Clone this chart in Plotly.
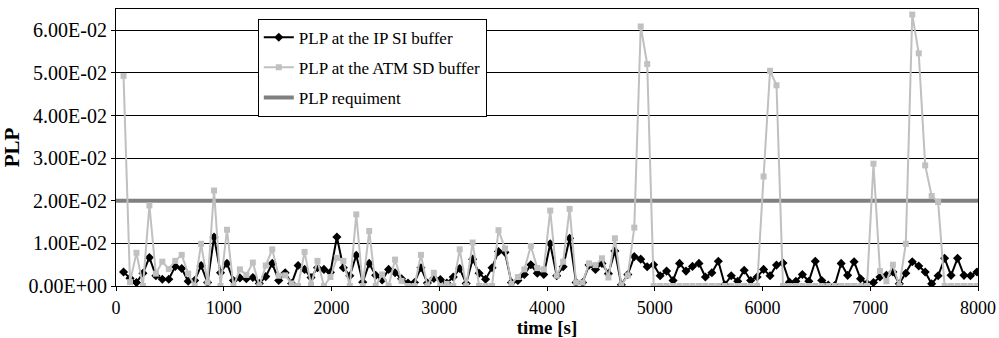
import plotly.graph_objects as go

# sampling instants [s]
time_s = [60 * k + 10 for k in range(1, 134)]

plp_ip_si = [
    0.0033, 0.0018, 0.0008, 0.0030, 0.0067, 0.0024, 0.0016, 0.0016, 0.0046, 0.0041,
    0.0011, 0.0013, 0.0048, 0.0008, 0.0115, 0.0031, 0.0053, 0.0013, 0.0019, 0.0017,
    0.0020, 0.0006, 0.0022, 0.0053, 0.0013, 0.0031, 0.0006, 0.0048, 0.0039, 0.0020,
    0.0043, 0.0039, 0.0032, 0.0115, 0.0043, 0.0024, 0.0072, 0.0009, 0.0053, 0.0025,
    0.0014, 0.0039, 0.0031, 0.0017, 0.0007, 0.0008, 0.0043, 0.0007, 0.0018, 0.0015,
    0.0007, 0.0021, 0.0041, 0.0006, 0.0063, 0.0030, 0.0016, 0.0043, 0.0081, 0.0079,
    0.0008, 0.0013, 0.0027, 0.0050, 0.0030, 0.0027, 0.0099, 0.0024, 0.0045, 0.0112,
    0.0008, 0.0008, 0.0049, 0.0039, 0.0053, 0.0029, 0.0082, 0.0003, 0.0027, 0.0069,
    0.0063, 0.0045, 0.0050, 0.0024, 0.0035, 0.0013, 0.0053, 0.0035, 0.0046, 0.0053,
    0.0021, 0.0031, 0.0058, 0.0003, 0.0024, 0.0011, 0.0037, 0.0013, 0.0021, 0.0039,
    0.0024, 0.0049, 0.0054, 0.0009, 0.0011, 0.0027, 0.0011, 0.0058, 0.0013, 0.0002,
    0.0001, 0.0053, 0.0025, 0.0057, 0.0017, 0.0006, 0.0008, 0.0021, 0.0025, 0.0033,
    0.0005, 0.0030, 0.0057, 0.0047, 0.0033, 0.0005, 0.0024, 0.0065, 0.0025, 0.0065,
    0.0025, 0.0024, 0.0033,
]

plp_atm_sd = [
    0.0493, 0.0009, 0.0078, 0.0000, 0.0189, 0.0029, 0.0057, 0.0040, 0.0059, 0.0073,
    0.0029, 0.0000, 0.0099, 0.0008, 0.0224, 0.0000, 0.0132, 0.0000, 0.0039, 0.0026,
    0.0055, 0.0000, 0.0048, 0.0086, 0.0024, 0.0025, 0.0006, 0.0000, 0.0080, 0.0003,
    0.0059, 0.0000, 0.0021, 0.0066, 0.0059, 0.0000, 0.0168, 0.0000, 0.0129, 0.0000,
    0.0027, 0.0000, 0.0062, 0.0012, 0.0000, 0.0000, 0.0073, 0.0000, 0.0031, 0.0000,
    0.0005, 0.0000, 0.0086, 0.0000, 0.0102, 0.0000, 0.0000, 0.0000, 0.0131, 0.0088,
    0.0005, 0.0021, 0.0039, 0.0094, 0.0042, 0.0039, 0.0177, 0.0024, 0.0057, 0.0181,
    0.0008, 0.0008, 0.0053, 0.0049, 0.0065, 0.0020, 0.0112, 0.0002, 0.0025, 0.0137,
    0.0609, 0.0521, 0.0000, 0.0000, 0.0000, 0.0000, 0.0000, 0.0000, 0.0000, 0.0000,
    0.0000, 0.0000, 0.0000, 0.0000, 0.0000, 0.0000, 0.0000, 0.0000, 0.0000, 0.0257,
    0.0505, 0.0471, 0.0000, 0.0000, 0.0000, 0.0000, 0.0000, 0.0000, 0.0000, 0.0000,
    0.0000, 0.0000, 0.0000, 0.0000, 0.0000, 0.0000, 0.0287, 0.0035, 0.0011, 0.0050,
    0.0000, 0.0099, 0.0637, 0.0546, 0.0283, 0.0211, 0.0197, 0.0000, 0.0000, 0.0000,
    0.0000, 0.0000, 0.0000,
]

plp_requirement = 0.02
req_x = [0, 8000]

y_tick_vals = [0.0, 0.01, 0.02, 0.03, 0.04, 0.05, 0.06]
y_tick_text = ["0.00E+00", "1.00E-02", "2.00E-02", "3.00E-02", "4.00E-02", "5.00E-02", "6.00E-02"]
x_tick_vals = [0, 1000, 2000, 3000, 4000, 5000, 6000, 7000, 8000]

FONT = "Liberation Serif"

fig = go.Figure()
fig.add_trace(go.Scatter(
    x=req_x, y=[plp_requirement, plp_requirement], mode="lines",
    name="PLP requiment", line=dict(color="#808080", width=4),
    legendrank=3, legendgroup="c",
))
fig.add_trace(go.Scatter(
    x=time_s, y=plp_ip_si, mode="lines+markers",
    name="PLP at the IP SI buffer",
    line=dict(color="#000000", width=2),
    marker=dict(symbol="diamond", size=7, color="#000000"),
    legendrank=1, legendgroup="a",
))
fig.add_trace(go.Scatter(
    x=time_s, y=plp_atm_sd, mode="lines+markers",
    name="PLP at the ATM SD buffer",
    line=dict(color="#c0c0c0", width=2),
    marker=dict(symbol="square", size=6, color="#c0c0c0"),
    legendrank=2, legendgroup="b",
))

fig.update_layout(
    width=999, height=338,
    margin=dict(l=116, r=21, t=9, b=52, autoexpand=False),
    paper_bgcolor="white", plot_bgcolor="white",
    font=dict(family=FONT, color="black", size=19),
    legend=dict(
        x=0.1645, y=0.965, xanchor="left", yanchor="top",
        bgcolor="white", bordercolor="black", borderwidth=1,
        font=dict(family=FONT, size=17, color="black"),
        tracegroupgap=5,
    ),
    xaxis=dict(
        range=[0, 8000], tickvals=x_tick_vals, automargin=False,
        showgrid=False, zeroline=False,
        showline=True, linecolor="black", linewidth=1, mirror=True,
        ticks="outside", ticklen=4, tickcolor="black",
        tickfont=dict(family=FONT, size=18), ticklabelstandoff=1,
        title=dict(text="<b>time [s]</b>", font=dict(family=FONT, size=19), standoff=4),
    ),
    yaxis=dict(
        range=[0, 0.065], tickvals=y_tick_vals, ticktext=y_tick_text, automargin=False,
        showgrid=True, gridcolor="black", gridwidth=1, zeroline=False,
        showline=True, linecolor="black", linewidth=1, mirror=True,
        ticks="outside", ticklen=4, tickcolor="black",
        tickfont=dict(family=FONT, size=20),
        title=dict(text="<b>PLP</b>", font=dict(family=FONT, size=21), standoff=8),
    ),
)

fig.write_html("out.html")
